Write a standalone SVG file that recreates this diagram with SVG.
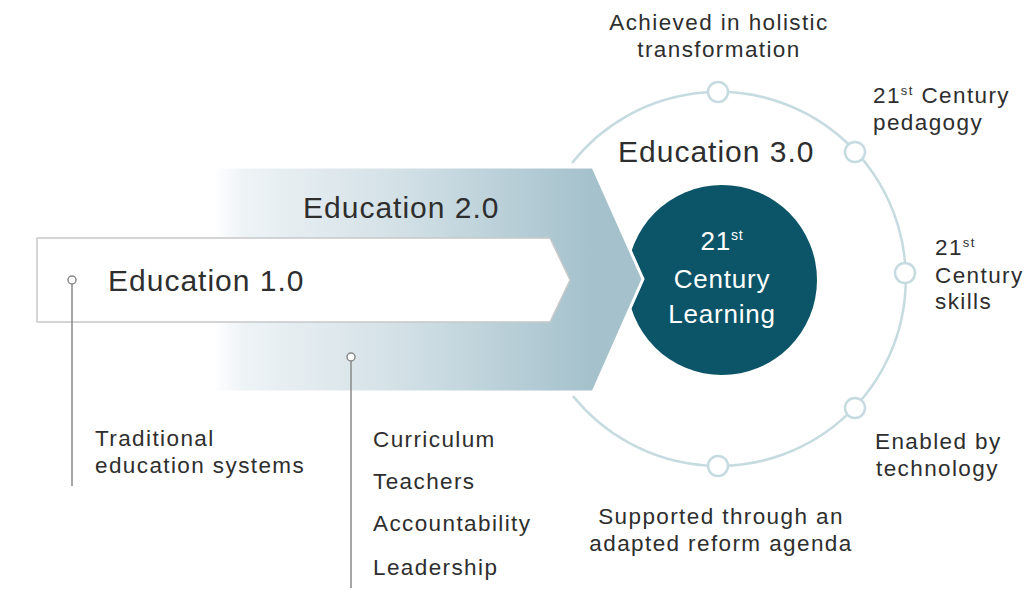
<svg xmlns="http://www.w3.org/2000/svg" width="1029" height="596" viewBox="0 0 1029 596">
<defs>
<linearGradient id="g2" x1="213" y1="0" x2="593" y2="0" gradientUnits="userSpaceOnUse">
<stop offset="0" stop-color="#ffffff"/>
<stop offset="0.08" stop-color="#eef3f6"/>
<stop offset="0.5" stop-color="#d2e0e6"/>
<stop offset="1" stop-color="#a4c1cc"/>
</linearGradient>
<style>
.t{font-family:"Liberation Sans",Arial,sans-serif;fill:#2e2e2e}
.big{font-size:30px;letter-spacing:1px}
.lbl{font-size:22.5px;letter-spacing:1.4px}
.w{fill:#ffffff;font-family:"Liberation Sans",Arial,sans-serif;font-size:26px;letter-spacing:0.8px}
.ring{fill:none;stroke:#c6dbe0;stroke-width:2.5}
.knob{fill:#ffffff;stroke:#c6dbe0;stroke-width:2.5}
.lead{stroke:#888888;stroke-width:1.5;fill:none}
.dot{fill:#ffffff;stroke:#888888;stroke-width:1.5}
</style>
</defs>
<rect width="1029" height="596" fill="#ffffff"/>

<g id="edu3">
<path class="ring" d="M 572 163 A 187 187 0 1 1 573 396"/>
<circle class="knob" cx="718" cy="92" r="10"/>
<circle class="knob" cx="855" cy="152" r="10"/>
<circle class="knob" cx="905" cy="273" r="10"/>
<circle class="knob" cx="855" cy="408" r="10"/>
<circle class="knob" cx="718" cy="466" r="10"/>
<text class="t big" x="618" y="162">Education 3.0</text>
</g>

<g id="core">
<circle cx="722" cy="280" r="95" fill="#0c5568"/>
<text class="w" x="722" y="250" text-anchor="middle">21<tspan font-size="14" dy="-10">st</tspan></text>
<text class="w" x="722" y="288" text-anchor="middle">Century</text>
<text class="w" x="722" y="323" text-anchor="middle">Learning</text>
</g>

<g id="edu2">
<path d="M 213 167 L 593 167 L 643 279 L 593 392 L 213 392 Z" fill="url(#g2)" stroke="#ffffff" stroke-width="3" stroke-linejoin="miter"/>
<text class="t big" x="303" y="218">Education 2.0</text>
</g>

<g id="edu1">
<path d="M 37 238 L 550 238 L 570 280 L 550 322 L 37 322 Z" fill="#ffffff" stroke="#c8c8c8" stroke-width="1.5"/>
<text class="t big" x="108" y="291">Education 1.0</text>
</g>

<g id="connectors">
<line class="lead" x1="72" y1="284" x2="72" y2="486"/>
<circle class="dot" cx="72" cy="280" r="4"/>
<line class="lead" x1="351" y1="361" x2="351" y2="588"/>
<circle class="dot" cx="351" cy="357" r="4"/>
</g>

<g id="labels">
<text class="t lbl" x="719" y="30" text-anchor="middle">Achieved in holistic</text>
<text class="t lbl" x="719" y="57" text-anchor="middle">transformation</text>
<text class="t lbl" x="873" y="103">21<tspan font-size="13" dy="-8">st</tspan><tspan dy="8"> Century</tspan></text>
<text class="t lbl" x="873" y="130">pedagogy</text>
<text class="t lbl" x="935" y="255">21<tspan font-size="13" dy="-8">st</tspan></text>
<text class="t lbl" x="935" y="283">Century</text>
<text class="t lbl" x="935" y="309">skills</text>
<text class="t lbl" x="875" y="449">Enabled by</text>
<text class="t lbl" x="876" y="476">technology</text>
<text class="t lbl" x="721" y="524" text-anchor="middle">Supported through an</text>
<text class="t lbl" x="721" y="551" text-anchor="middle">adapted reform agenda</text>
<text class="t lbl" x="95" y="446">Traditional</text>
<text class="t lbl" x="95" y="473">education systems</text>
<text class="t lbl" x="373" y="447">Curriculum</text>
<text class="t lbl" x="373" y="489">Teachers</text>
<text class="t lbl" x="373" y="531">Accountability</text>
<text class="t lbl" x="373" y="575">Leadership</text>
</g>
</svg>
